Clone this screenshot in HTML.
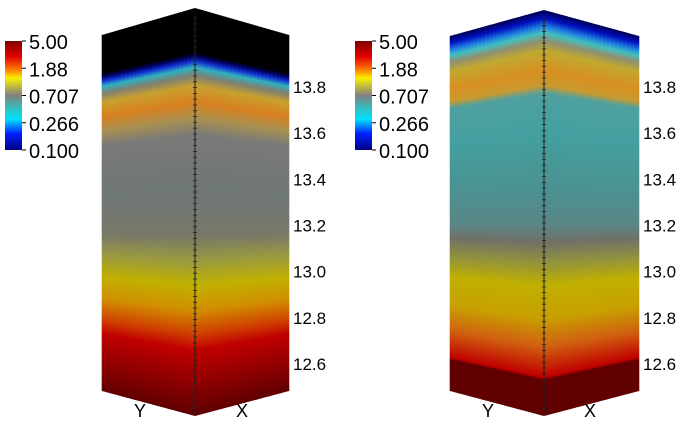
<!DOCTYPE html>
<html><head><meta charset="utf-8"><style>
body{margin:0;background:#fff;width:700px;height:421px;overflow:hidden}
svg{display:block;font-family:"Liberation Sans",sans-serif}
</style></head><body>
<svg id="s" width="700" height="421" viewBox="0 0 700 421">
<defs>
<linearGradient id="cb" x1="0" y1="0" x2="0" y2="1">
<stop offset="0" stop-color="#800000"/><stop offset="0.14" stop-color="#e00000"/><stop offset="0.25" stop-color="#ff6a00"/><stop offset="0.34" stop-color="#f8f000"/><stop offset="0.5" stop-color="#808080"/><stop offset="0.62" stop-color="#30c0c0"/><stop offset="0.72" stop-color="#00e0ff"/><stop offset="0.85" stop-color="#0020ff"/><stop offset="1" stop-color="#000080"/>
</linearGradient>
</defs>
<g id="g"></g>
</svg>
<script>
const tickValues=[12.6,12.8,13.0,13.2,13.4,13.6,13.8];
const tickLabels=["12.6","12.8","13.0","13.2","13.4","13.6","13.8"];
const cbLabels=["5.00","1.88","0.707","0.266","0.100"];
const leftStops=[[0,"#000"],[0.108,"#000"],[0.118,"#000060"],[0.13,"#1030d0"],[0.145,"#30b0c0"],[0.165,"#808070"],[0.19,"#c8a030"],[0.23,"#d88020"],[0.27,"#a89050"],[0.31,"#7a7a78"],[0.45,"#6e7676"],[0.56,"#787868"],[0.62,"#9a9a40"],[0.68,"#c0b000"],[0.74,"#d09000"],[0.8,"#d04000"],[0.84,"#c00000"],[0.92,"#900000"],[1,"#600000"]];
const rightStops=[[0,"#000050"],[0.02,"#0010c0"],[0.04,"#2080e0"],[0.055,"#40c0c0"],[0.075,"#909070"],[0.1,"#c0a830"],[0.15,"#d89020"],[0.185,"#c89a30"],[0.205,"#50a0a0"],[0.3,"#44a0a0"],[0.45,"#4c9090"],[0.53,"#5a8686"],[0.57,"#707068"],[0.62,"#909040"],[0.68,"#c0b000"],[0.76,"#c8a000"],[0.83,"#d06010"],[0.905,"#c00000"],[0.912,"#600000"],[1,"#600000"]];
const NS="http://www.w3.org/2000/svg";
const g=document.getElementById('g');
const defs=document.querySelector('defs');
function el(t,a,p){const e=document.createElementNS(NS,t);for(const k in a)e.setAttribute(k,a[k]);(p||g).appendChild(e);return e;}
let gid=0;
function column(L,F,R,ts,tf,bs,bf,stops,name){
  const grp=el('g',{});
  
  
  const N=24;
  for(const [x0,x1] of [[L,F],[F,R]]){
    for(let i=0;i<N;i++){
      const a=x0+(x1-x0)*i/N,b=x0+(x1-x0)*(i+1)/N;
      const tA=x0===L?ts+(tf-ts)*(a-L)/(F-L):tf+(ts-tf)*(a-F)/(R-F);
      const tB=x0===L?ts+(tf-ts)*(b-L)/(F-L):tf+(ts-tf)*(b-F)/(R-F);
      const bA=x0===L?bs+(bf-bs)*(a-L)/(F-L):bf+(bs-bf)*(a-F)/(R-F);
      const bB=x0===L?bs+(bf-bs)*(b-L)/(F-L):bf+(bs-bf)*(b-F)/(R-F);
      const m=(a+b)/2,tm=(tA+tB)/2,bm=(bA+bB)/2;
      const id='gr'+(gid++);
      const lg=el('linearGradient',{id:id,gradientUnits:'userSpaceOnUse',x1:m,y1:tm,x2:m,y2:bm},defs);
      stops.forEach(s=>el('stop',{offset:s[0],'stop-color':s[1]},lg));
      el('polygon',{points:`${a-0.3},${tA} ${b+0.3},${tB} ${b+0.3},${bB} ${a-0.3},${bA}`,fill:`url(#${id})`},grp);
    }
  }
  const ax=el('line',{x1:F,y1:tf+8,x2:F,y2:bf-2,stroke:'#222','stroke-width':1},grp);
  
  
  for(let y=tf+10;y<bf-2;y+=5.8){el('line',{x1:F-2,y1:y,x2:F+2,y2:y,stroke:'#222','stroke-width':0.8},grp);}
  return grp;
}
function yPos(v){return 363-(v-12.6)*(363-86)/1.2;}
function axisLabels(x,name){
  tickValues.forEach((v,i)=>{
    const t=el('text',{x:x,y:yPos(v)+7,'font-size':17,fill:'#000'});
    t.textContent=tickLabels[i];
    
    
  });
}
function colorbar(x,name){
  const r=el('rect',{x:x,y:41,width:17,height:109,fill:'url(#cb)'});
  
  
  cbLabels.forEach((s,i)=>{
    const y=41+i*109/4;
    el('line',{x1:x+17,y1:y,x2:x+21,y2:y,stroke:'#000'});
    const t=el('text',{x:x+24,y:y+8,'font-size':20,fill:'#000'});
    t.textContent=s;
    
    
  });
}
function xyLabels(xy,xx,name){
  const a=el('text',{x:xy,y:417,'font-size':18,fill:'#000','text-anchor':'middle'});a.textContent='Y';
  
  
  const b=el('text',{x:xx,y:417,'font-size':18,fill:'#000','text-anchor':'middle'});b.textContent='X';
  
  
}
column(102,195,289,35,8,391,416,leftStops,'left-volume');
column(450,544,639,36,10,391,416,rightStops,'right-volume');
colorbar(5,'left-colorbar');
colorbar(355,'right-colorbar');
axisLabels(293,'left');
axisLabels(643,'right');
xyLabels(140,242,'left');
xyLabels(488,590,'right');
</script>
</body></html>
